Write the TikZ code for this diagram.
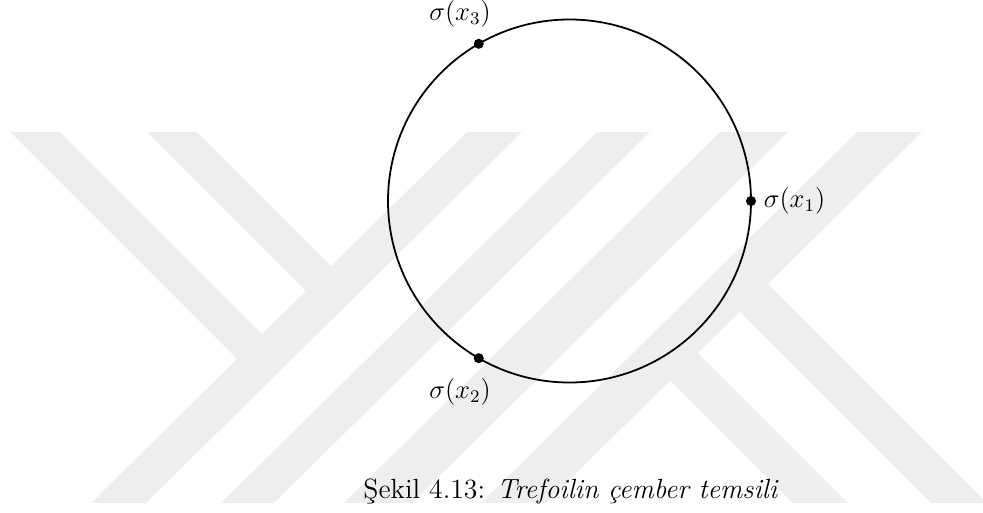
\documentclass[tikz,border=0pt]{standalone}
\usepackage{fontspec}
\usepackage{amsmath}
\usetikzlibrary{positioning}
\definecolor{wmGrey}{HTML}{EEEEEE}
\tikzset{
  every picture/.append style = {line width=0.8pt},
  statedot/.style = {circle, fill=black, inner sep=1.6pt},
  lbl/.style      = {font=\large},
  band/.style     = {wmGrey, line width=#1},
}

\begin{document}
\begin{tikzpicture}[x=0.45pt, y=0.45pt]
  \useasboundingbox (0,0) rectangle (983,512);
  % watermark stripes, cut off at top and bottom
  \begin{scope}
    \clip (0,10) rectangle (983,380);
    \foreach \t/\w in {494.5/17.4pt, 623.5/16.7pt, 754/21.5pt, 889.5/20.5pt}
      \draw[band=\w] ({\t+40.5},420) -- ({\t-415.5},-30);
    \draw[band=15.9pt] (-15,430) -- (263,152);
    \draw[band=15.9pt] (122,430) -- (332,220);
    \draw[band=17.8pt] (737.7,230.3) -- (987.7,-19.7);
    \draw[band=17.5pt] (668,161) -- (868,-39);
  \end{scope}
  % circle with the three points
  \coordinate (c) at (569.5,311);
  \draw (c) circle (181.5);
  \foreach \i/\a in {1/0, 2/240, 3/120}
    \path (c) ++(\a:181.5) node[statedot] (p\i) {};
  \node[lbl, right=2pt] (s1) at (p1) {$\sigma(x_1)$};
  \node[lbl] (s2) at ([shift={(-18.75,-33.8)}]p2) {$\sigma(x_2)$};
  \node[lbl] (s3) at ([shift={(-18.75,29.8)}]p3) {$\sigma(x_3)$};
  % caption
  \node[font=\fontsize{12.5}{15}\selectfont] (cap) at (571,20)
    {Şekil 4.13: \textit{Trefoilin çember temsili}};
\end{tikzpicture}
\end{document}
